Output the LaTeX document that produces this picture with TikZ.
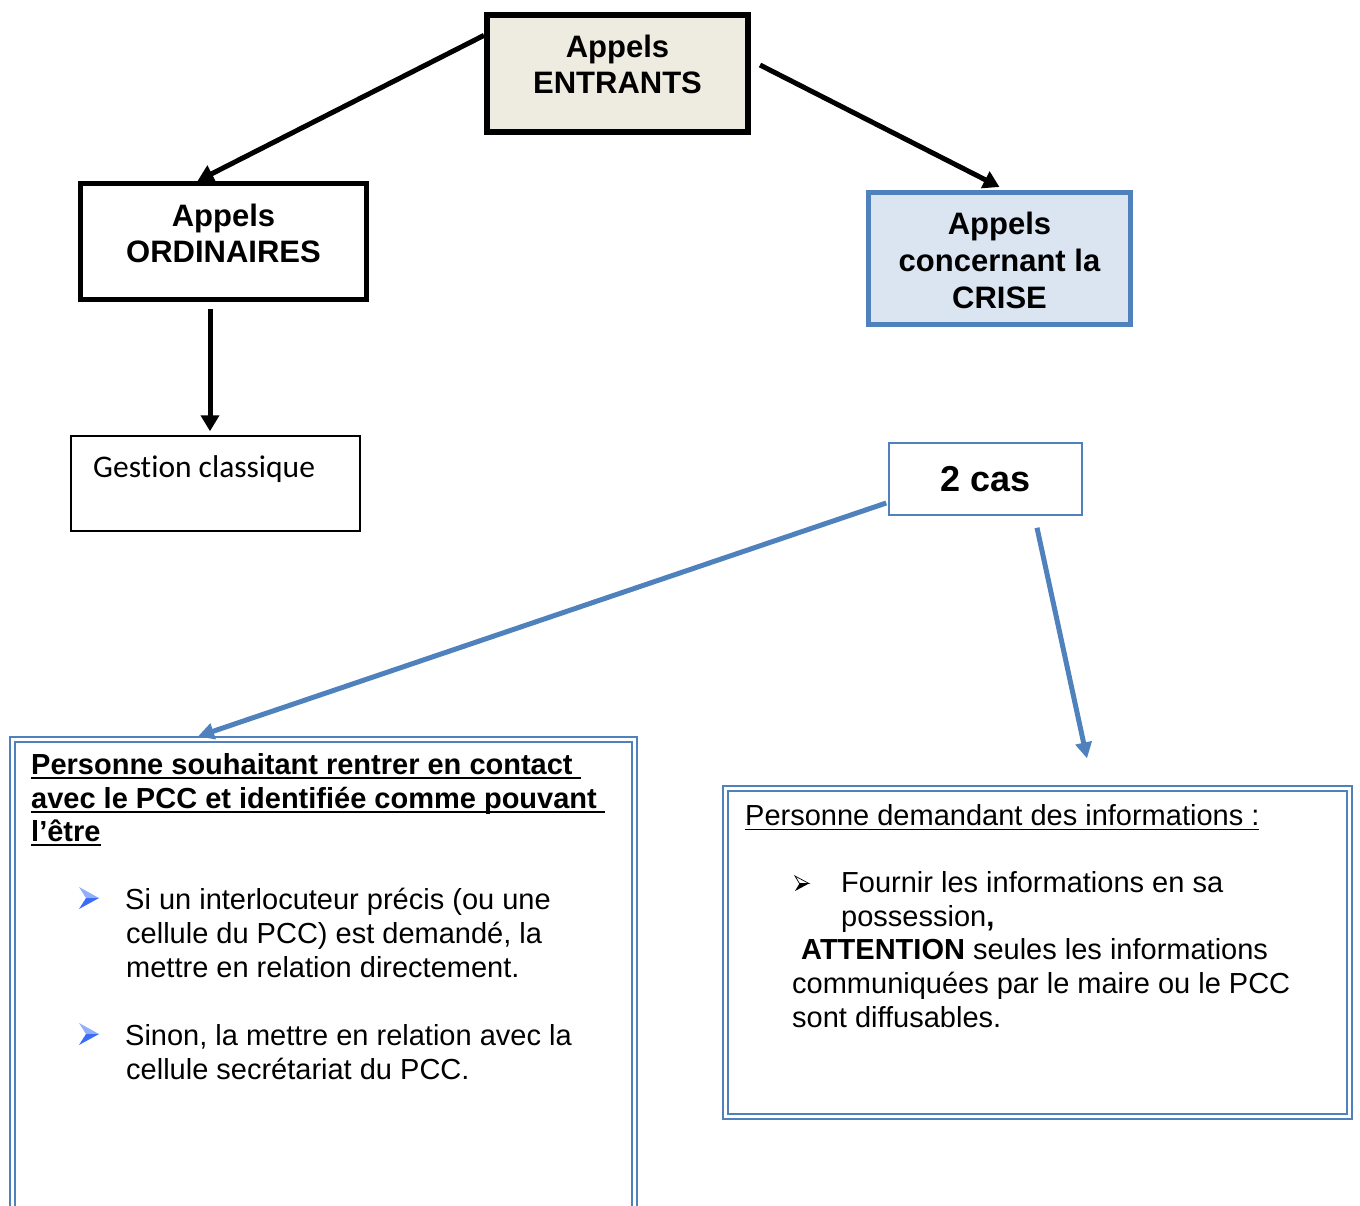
\documentclass[tikz,border=0pt]{standalone}
\usepackage{fontspec}
\setmainfont{Liberation Sans}
\newfontfamily\calibri[Ligatures=NoCommon]{Carlito}
\usetikzlibrary{arrows.meta,calc}
\definecolor{ublue}{HTML}{4F81BD}
\definecolor{tanfill}{HTML}{EEECE1}
\definecolor{crisefill}{HTML}{DBE5F1}
\definecolor{bulblue}{HTML}{3A6CF5}
\newcommand\ulx[2][2pt]{\setbox0\hbox{#2}\rlap{\rule[-5pt]{\wd0}{#1}}\box0}
\begin{document}
\begin{tikzpicture}[x=1pt,y=-1pt,
  box/.style={draw, rectangle, inner sep=0pt},
  ttl/.style={font=\bfseries\fontsize{31}{36}\selectfont, align=center, inner sep=0pt},
  txt/.style={anchor=base west, inner sep=0pt, font=\fontsize{29}{34}\selectfont},
  btxt/.style={txt, font=\bfseries\fontsize{29}{34}\selectfont},
  blk/.style={draw=black, line width=5pt, -{Triangle[length=16pt,width=18pt]}},
  blu/.style={draw=ublue, line width=5pt, -{Triangle[length=16pt,width=16pt]}},
  dbox/.style={box, draw=ublue, line width=2.2pt, double=white, double distance=2.8pt}]
\useasboundingbox (0,0) rectangle (1360,1205);
\clip (0,0) rectangle (1360,1205);

% top boxes
\node[box, line width=6pt, fill=tanfill, minimum width=261pt, minimum height=117pt] (ent) at (617.5,73.5) {};
\node[ttl] (entT) at (617.5,64) {Appels\\ENTRANTS};

\node[box, line width=5pt, fill=white, minimum width=286pt, minimum height=116pt] (ord) at (223.5,241.5) {};
\node[ttl] (ordT) at (223.5,233) {Appels\\ORDINAIRES};

\node[box, draw=ublue, line width=5pt, fill=crisefill, minimum width=262pt, minimum height=132pt] (cr) at (999.5,258.5) {};
\node[ttl, font=\bfseries\fontsize{31}{37}\selectfont] (crT) at (999.5,260) {Appels\\concernant la\\CRISE};

\node[box, line width=1.5pt, minimum width=289pt, minimum height=95pt] (ges) at (215.5,483.5) {};
\node[anchor=base west, inner sep=0pt, font=\calibri\fontsize{31.5}{36}\selectfont] (gesT) at (93,477) {Gestion classique};

\node[box, draw=ublue, line width=1.5pt, minimum width=193pt, minimum height=72pt] (cas) at (985.5,479) {};
\node[font=\bfseries\fontsize{36}{40}\selectfont, inner sep=0pt] (casT) at (985.5,479) {2 cas};

% bottom boxes
\node[dbox, minimum width=622pt, minimum height=520pt] (lb) at (323.5,999.5) {};
\node[dbox, minimum width=624pt, minimum height=328pt] (rb) at (1037.5,952.5) {};

% left box text
\node[btxt] (h1) at (31,774) {\ulx{Personne souhaitant rentrer en contact\ }};
\node[btxt] (h2) at (31,808) {\ulx{avec le PCC et identifiée comme pouvant\ }};
\node[btxt] (h3) at (31,841) {\ulx{l’être}};
\node[txt] (a1) at (125,909) {Si un interlocuteur précis (ou une};
\node[txt] (a2) at (126,943) {cellule du PCC) est demandé, la};
\node[txt] (a3) at (126,977) {mettre en relation directement.};
\node[txt] (b1) at (125,1045) {Sinon, la mettre en relation avec la};
\node[txt] (b2) at (126,1079) {cellule secrétariat du PCC.};

% bullets left
\fill[bulblue!55] (79,887) -- (99,898) -- (86,898) -- cycle;
\fill[bulblue] (86,898) -- (99,898) -- (79,909) -- cycle;
\fill[bulblue!55] (79,1023) -- (99,1034) -- (86,1034) -- cycle;
\fill[bulblue] (86,1034) -- (99,1034) -- (79,1045) -- cycle;

% right box text
\node[txt] (r0) at (745,825) {\ulx[1.5pt]{Personne demandant des informations :}};
\node[txt] (r1) at (841,892) {Fournir les informations en sa};
\node[txt] (r2) at (841,926) {possession\textbf{,}};
\node[txt] (r3) at (801,959) {\textbf{ATTENTION} seules les informations};
\node[txt] (r4) at (792,993) {communiquées par le maire ou le PCC};
\node[txt] (r5) at (792,1027) {sont diffusables.};

\filldraw[fill=white, draw=black, line width=0.7pt] (795,876) -- (809,883.5) -- (799.5,883.5) -- cycle;
\fill[black] (799.5,883.5) -- (809,883.5) -- (795,891) -- cycle;

% connectors
\draw[blk] ($(ent.north west)!0.19!(ent.south west)$) -- ([xshift=-26pt]ord.north);
\draw[blk] ([xshift=9pt,yshift=8.5pt]ent.east) -- ([yshift=3pt]cr.north);
\draw[blk] ([xshift=-13.5pt,yshift=-7pt]ord.south) -- ([xshift=-5.5pt,yshift=4pt]ges.north);
\draw[blu] ([xshift=-2pt,yshift=-24pt]cas.west) -- ([xshift=-125.5pt,yshift=2pt]lb.north);
\draw[blu] ([xshift=51.5pt,yshift=-12pt]cas.south) -- ([xshift=49.5pt,yshift=29pt]rb.north);
\end{tikzpicture}
\end{document}
